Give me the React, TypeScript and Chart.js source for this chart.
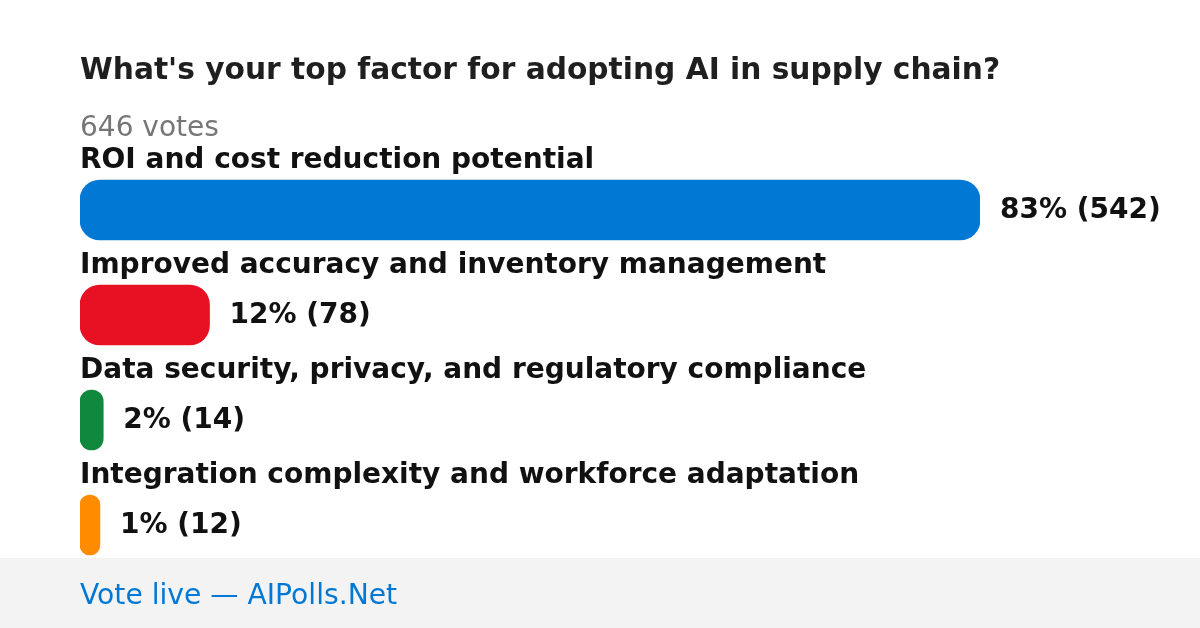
import React, { useEffect, useRef } from "react";
import { Chart, registerables } from "chart.js";

Chart.register(...registerables);

const title = "What's your top factor for adopting AI in supply chain?";
const totalLabel = "646 votes";
const footerText = "Vote live — AIPolls.Net";
const categories = [
  "ROI and cost reduction potential",
  "Improved accuracy and inventory management",
  "Data security, privacy, and regulatory compliance",
  "Integration complexity and workforce adaptation",
];
const votes = [542, 78, 14, 12];
const percents = [83, 12, 2, 1];
const barColors = ["#0078d4", "#e81123", "#10893e", "#ff8c00"];

const FONT = "'DejaVu Sans', sans-serif";

const textPlugin = {
  id: "pollText",
  beforeDraw(chart: any) {
    const ctx = chart.ctx;
    ctx.save();
    ctx.fillStyle = "#ffffff";
    ctx.fillRect(0, 0, chart.width, chart.height);
    ctx.fillStyle = "#f3f3f3";
    ctx.fillRect(0, 558, chart.width, chart.height - 558);
    ctx.restore();
  },
  afterDraw(chart: any) {
    const ctx = chart.ctx;
    const meta = chart.getDatasetMeta(0);
    const left = chart.chartArea.left;
    ctx.save();
    ctx.textAlign = "left";
    ctx.textBaseline = "alphabetic";
    ctx.fillStyle = "#1f1f1f";
    ctx.font = `bold 29.7px ${FONT}`;
    ctx.fillText(title, left, 79);
    ctx.fillStyle = "#767676";
    ctx.font = `28px ${FONT}`;
    ctx.fillText(totalLabel, left, 136);
    meta.data.forEach((bar: any, i: number) => {
      ctx.fillStyle = "#111111";
      ctx.font = `bold 28px ${FONT}`;
      ctx.fillText(categories[i], left, bar.y - 42);
      ctx.fillText(`${percents[i]}% (${votes[i]})`, bar.x + 20, bar.y + 8);
    });
    ctx.fillStyle = "#0078d4";
    ctx.font = `28.2px ${FONT}`;
    ctx.fillText(footerText, left, 604);
    ctx.restore();
  },
};

export default function App() {
  const ref = useRef<HTMLCanvasElement>(null);
  useEffect(() => {
    document.body.style.margin = "0";
    const chart = new Chart(ref.current as HTMLCanvasElement, {
      type: "bar",
      data: {
        labels: categories,
        datasets: [
          {
            data: votes,
            backgroundColor: barColors,
            borderRadius: 20,
            borderSkipped: false,
            barThickness: 60,
          },
        ],
      },
      options: {
        indexAxis: "y",
        responsive: false,
        animation: false,
        devicePixelRatio: 1,
        layout: { padding: { left: 80, right: 220, top: 157.5, bottom: 50.5 } },
        scales: {
          x: { display: false, min: 0, max: 542 },
          y: { display: false, offset: true },
        },
        plugins: {
          legend: { display: false },
          tooltip: { enabled: false },
          title: { display: false },
        },
      },
      plugins: [textPlugin],
    } as any);
    return () => chart.destroy();
  }, []);
  return (
    <div style={{ position: "absolute", left: 0, top: 0, width: 1200, height: 628 }}>
      <canvas ref={ref} width={1200} height={628} />
    </div>
  );
}
